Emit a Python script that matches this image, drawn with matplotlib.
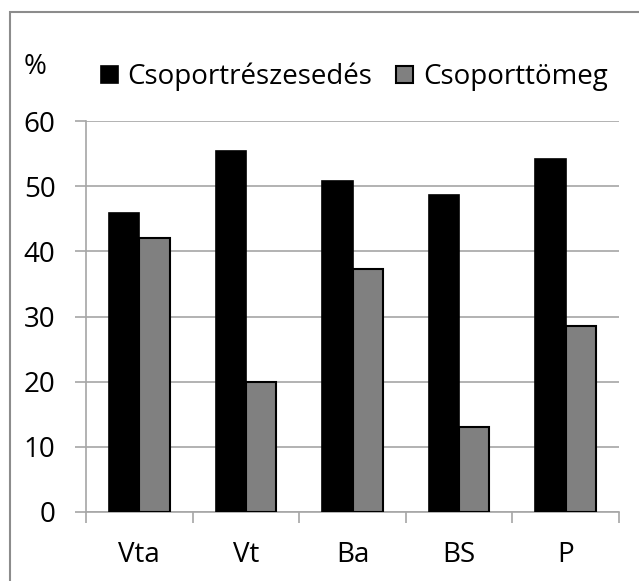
import matplotlib
matplotlib.use("Agg")
import matplotlib.pyplot as plt
from matplotlib.patches import Rectangle
import numpy as np

plt.rcParams['font.family'] = ['Open Sans', 'DejaVu Sans']

categories = ["Vta", "Vt", "Ba", "BS", "P"]
share = [45.9, 55.4, 50.8, 48.7, 54.2]
mass = [42.1, 19.9, 37.3, 13.0, 28.6]
series_names = ["Csoportrészesedés", "Csoporttömeg"]
y_ticks = [0, 10, 20, 30, 40, 50, 60]

fs = 20
fig = plt.figure(figsize=(6.39, 5.81), dpi=100)
ax = fig.add_axes([86 / 639, 1 - 512 / 581, 533 / 639, 391 / 581])

x = np.arange(len(categories))
w = 0.285
b1 = ax.bar(x - w / 2, share, width=w, color="black", edgecolor="black",
            linewidth=1.2, label=series_names[0], zorder=3)
b2 = ax.bar(x + w / 2, mass, width=w, color="#808080", edgecolor="black",
            linewidth=1.5, label=series_names[1], zorder=3)

ax.set_xlim(-0.5, len(categories) - 0.5)
ax.set_ylim(0, 60)
ax.set_yticks(y_ticks)
ax.set_yticklabels([str(t) for t in y_ticks], fontsize=fs)
ax.yaxis.grid(True, color="#a6a6a6", linewidth=1.2, zorder=0)
ax.set_axisbelow(True)

ax.set_xticks(x)
ax.set_xticklabels(categories, fontsize=fs)
ax.tick_params(axis="x", length=0, pad=21)
ax.set_xticks(np.arange(-0.5, len(categories)), minor=True)
ax.tick_params(axis="x", which="minor", length=8, width=1.2, color="#a6a6a6")
ax.tick_params(axis="y", length=8, width=1.2, color="#a6a6a6", pad=14)

for side in ("top", "right"):
    ax.spines[side].set_visible(False)
for side in ("left", "bottom"):
    ax.spines[side].set_color("#a6a6a6")
    ax.spines[side].set_linewidth(1.2)

fig.text(24 / 639, 1 - 67.5 / 581, "%", fontsize=fs, va="center", ha="left")
leg = fig.legend(handles=[b1, b2], loc="center left",
                 bbox_to_anchor=(101 / 639, 1 - 77 / 581),
                 ncol=2, frameon=False, fontsize=fs, handlelength=0.6, handleheight=0.6,
                 handletextpad=0.36, columnspacing=0.86, borderpad=0, borderaxespad=0)

# outer frame, running off the right and bottom edges
fig.patches.append(Rectangle((10 / 639, -0.1), 1.2, 1 - 12 / 581 + 0.1,
                             transform=fig.transFigure, fill=False,
                             edgecolor="#8c8c8c", linewidth=1.5))

fig.savefig("out.png", dpi=100)
